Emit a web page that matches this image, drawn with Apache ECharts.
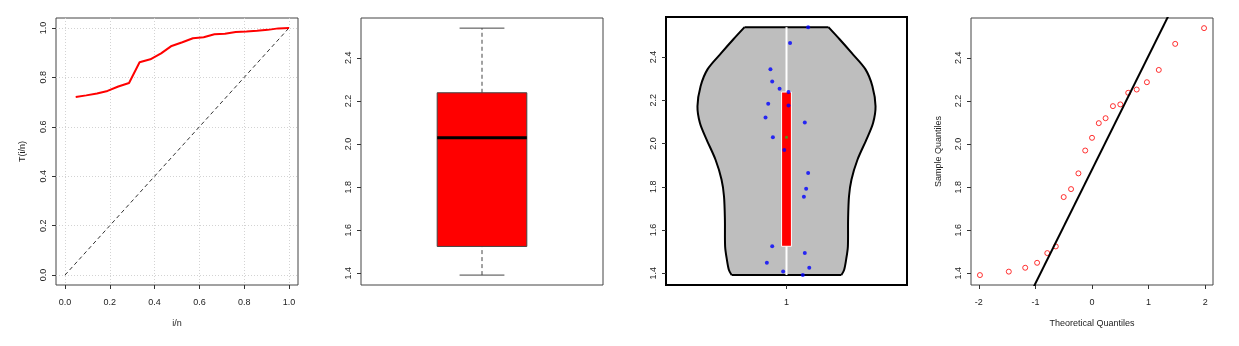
<!DOCTYPE html>
<html>
<head>
<meta charset="utf-8">
<script src="https://cdn.jsdelivr.net/npm/echarts@6/dist/echarts.min.js"></script>
<style>
html, body { margin: 0; padding: 0; background: #fff; }
#main { width: 1239px; height: 346px; }
</style>
</head>
<body>
<div id="main"></div>
<script>
// sorted sample, n = 21
var sample = [1.392, 1.408, 1.426, 1.449, 1.494, 1.525, 1.754, 1.791, 1.864, 1.970, 2.029,
              2.097, 2.120, 2.176, 2.184, 2.238, 2.253, 2.287, 2.344, 2.465, 2.538];

// TTT plot
var tttX = [0.048, 0.095, 0.143, 0.190, 0.238, 0.286, 0.333, 0.381, 0.429, 0.476, 0.524,
            0.571, 0.619, 0.667, 0.714, 0.762, 0.810, 0.857, 0.905, 0.952, 1.0];
var tttY = [0.720, 0.727, 0.735, 0.745, 0.763, 0.777, 0.861, 0.873, 0.897, 0.927, 0.942,
            0.958, 0.962, 0.974, 0.976, 0.983, 0.985, 0.988, 0.992, 0.998, 1.0];
var unitTicks = [0, 0.2, 0.4, 0.6, 0.8, 1.0];

// boxplot: min, lower hinge, median, upper hinge, max
var boxStats = [1.392, 1.525, 2.029, 2.238, 2.538];
var sampleTicks = [1.4, 1.6, 1.8, 2.0, 2.2, 2.4];

// violin outline (value, half width) and jittered points
var violinY = [1.392, 1.415, 1.462, 1.523, 1.647, 1.755, 1.833, 1.925, 2.018, 2.095,
               2.172, 2.265, 2.343, 2.420, 2.482, 2.538];
var violinHalf = [0.246, 0.258, 0.267, 0.275, 0.276, 0.280, 0.291, 0.318, 0.358, 0.388,
                  0.399, 0.385, 0.354, 0.291, 0.238, 0.188];
var jitterX = [1.073, 0.985, 1.102, 0.912, 1.082, 0.936, 1.078, 1.088, 1.097, 0.990, 0.939,
               1.082, 0.906, 1.009, 0.918, 1.009, 0.969, 0.936, 0.928, 1.016, 1.097];

// normal QQ
var theoQ = [-1.98, -1.47, -1.18, -0.97, -0.79, -0.64, -0.50, -0.37, -0.24, -0.12, 0,
             0.12, 0.24, 0.37, 0.50, 0.64, 0.79, 0.97, 1.18, 1.47, 1.98];
var qqTicks = [-2, -1, 0, 1, 2];

var FONT = 'Liberation Sans, Arial, sans-serif';
var TXT = '#222';

// qqline through the quartiles
var z75 = 0.6745;
var qqSlope = (sample[15] - sample[5]) / (2 * z75);
var qqInt = sample[5] + z75 * qqSlope;

function mkAxis(grid, min, max, ticks, isY, extra) {
    var a = {
        type: 'value', gridIndex: grid, min: min, max: max,
        axisLine: { show: false, onZero: false },
        axisTick: { show: !!ticks, length: 4, customValues: ticks || [], lineStyle: { color: '#333' } },
        axisLabel: {
            show: !!ticks, customValues: ticks || [], fontSize: 9, fontFamily: FONT, color: TXT,
            margin: isY ? 8 : 13, rotate: isY ? 90 : 0,
            formatter: function (v) { return (ticks === unitTicks || ticks === sampleTicks) ? v.toFixed(1) : String(v); }
        },
        splitLine: { show: false },
        nameLocation: 'middle',
        nameMoveOverlap: false,
        nameTextStyle: { fontSize: 9, fontFamily: FONT, color: TXT }
    };
    for (var k in extra) a[k] = extra[k];
    return a;
}

var myChart = echarts.init(document.getElementById('main'));

var gridBase = { show: true, borderColor: '#444', borderWidth: 1, backgroundColor: 'transparent' };
function mkGrid(l, t, w, h, extra) {
    var g = { left: l, top: t, width: w, height: h };
    for (var k in gridBase) g[k] = gridBase[k];
    for (var j in extra) g[j] = extra[j];
    return g;
}

var option = {
    animation: false,
    backgroundColor: '#fff',
    grid: [
        mkGrid(56, 18, 242, 267),
        mkGrid(361, 18, 242, 267),
        mkGrid(666, 17, 241, 268, { borderColor: '#000', borderWidth: 2 }),
        mkGrid(971, 18, 242, 267)
    ],
    xAxis: [
        mkAxis(0, -0.04, 1.04, unitTicks, false, {
            name: 'i/n', nameGap: 34,
            splitLine: { show: true, customValues: unitTicks, lineStyle: { color: '#d3d3d3', type: [1, 2] } }
        }),
        mkAxis(1, 0.46, 1.54, null, false, {}),
        mkAxis(2, 0.46, 1.54, [1], false, {}),
        mkAxis(3, -2.138, 2.138, qqTicks, false, { name: 'Theoretical Quantiles', nameGap: 34 })
    ],
    yAxis: [
        mkAxis(0, -0.04, 1.04, unitTicks, true, {
            name: 'T(i/n)', nameGap: 29,
            splitLine: { show: true, customValues: unitTicks, lineStyle: { color: '#d3d3d3', type: [1, 2] } }
        }),
        mkAxis(1, 1.346, 2.585, sampleTicks, true, {}),
        mkAxis(2, 1.346, 2.585, sampleTicks, true, {}),
        mkAxis(3, 1.346, 2.585, sampleTicks, true, { name: 'Sample Quantiles', nameGap: 28 })
    ],
    series: [
        // TTT panel
        {
            type: 'line', xAxisIndex: 0, yAxisIndex: 0, symbol: 'none',
            data: [[0, 0], [1, 1]],
            lineStyle: { color: '#333', width: 1, type: [4, 3] }
        },
        {
            type: 'line', xAxisIndex: 0, yAxisIndex: 0, symbol: 'none',
            data: tttX.map(function (x, i) { return [x, tttY[i]]; }),
            lineStyle: { color: '#ff0000', width: 2 }
        },
        // boxplot panel
        {
            type: 'custom', xAxisIndex: 1, yAxisIndex: 1,
            data: [[1].concat(boxStats)],
            renderItem: function (params, api) {
                var x = api.value(0);
                var p = function (dx, y) { return api.coord([x + dx, y]); };
                var s = boxStats;
                var whisk = { stroke: '#444', lineWidth: 1, lineDash: [4, 3] };
                var solid = { stroke: '#444', lineWidth: 1 };
                var lo = p(-0.2, s[3]), hi = p(0.2, s[1]);
                return {
                    type: 'group',
                    children: [
                        { type: 'line', shape: { x1: p(0, s[0])[0], y1: p(0, s[0])[1], x2: p(0, s[1])[0], y2: p(0, s[1])[1] }, style: whisk },
                        { type: 'line', shape: { x1: p(0, s[3])[0], y1: p(0, s[3])[1], x2: p(0, s[4])[0], y2: p(0, s[4])[1] }, style: whisk },
                        { type: 'line', shape: { x1: p(-0.1, s[0])[0], y1: p(-0.1, s[0])[1], x2: p(0.1, s[0])[0], y2: p(0.1, s[0])[1] }, style: solid },
                        { type: 'line', shape: { x1: p(-0.1, s[4])[0], y1: p(-0.1, s[4])[1], x2: p(0.1, s[4])[0], y2: p(0.1, s[4])[1] }, style: solid },
                        { type: 'rect', shape: { x: lo[0], y: lo[1], width: hi[0] - lo[0], height: hi[1] - lo[1] },
                          style: { fill: '#ff0000', stroke: '#444', lineWidth: 1 } },
                        { type: 'line', shape: { x1: p(-0.2, s[2])[0], y1: p(-0.2, s[2])[1], x2: p(0.2, s[2])[0], y2: p(0.2, s[2])[1] },
                          style: { stroke: '#000', lineWidth: 3 } }
                    ]
                };
            }
        },
        // violin panel
        {
            type: 'custom', xAxisIndex: 2, yAxisIndex: 2,
            data: [[1]],
            renderItem: function (params, api) {
                var left = [], right = [];
                for (var i = 0; i < violinY.length; i++) {
                    left.push(api.coord([1 - violinHalf[i], violinY[i]]));
                    right.push(api.coord([1 + violinHalf[i], violinY[i]]));
                }
                var poly = left.concat(right.slice().reverse());
                var s = boxStats;
                var bl = api.coord([1 - 0.022, s[3]]), br = api.coord([1 + 0.022, s[1]]);
                var vt = api.coord([1, s[4]]), vb = api.coord([1, s[0]]);
                var edge = { stroke: '#000', lineWidth: 2, fill: null };
                return {
                    type: 'group',
                    children: [
                        { type: 'polygon', shape: { points: poly }, style: { fill: '#bebebe' } },
                        { type: 'polyline', shape: { points: left, smooth: 0.3 }, style: edge },
                        { type: 'polyline', shape: { points: right, smooth: 0.3 }, style: edge },
                        { type: 'line', shape: { x1: left[0][0], y1: left[0][1], x2: right[0][0], y2: right[0][1] }, style: edge },
                        { type: 'line', shape: { x1: left[left.length - 1][0], y1: left[left.length - 1][1], x2: right[right.length - 1][0], y2: right[right.length - 1][1] }, style: edge },
                        { type: 'line', shape: { x1: vt[0], y1: vt[1], x2: vb[0], y2: vb[1] }, style: { stroke: '#fff', lineWidth: 2 } },
                        { type: 'rect', shape: { x: bl[0], y: bl[1], width: br[0] - bl[0], height: br[1] - bl[1] },
                          style: { fill: '#ff0000', stroke: '#fff', lineWidth: 1 } }
                    ]
                };
            }
        },
        {
            type: 'scatter', xAxisIndex: 2, yAxisIndex: 2, symbolSize: 4,
            data: sample.map(function (v, i) { return [jitterX[i], v]; }),
            itemStyle: { color: '#0000ff' }, z: 5
        },
        {
            type: 'scatter', xAxisIndex: 2, yAxisIndex: 2, symbolSize: 3,
            data: [[1, boxStats[2]]],
            itemStyle: { color: '#22bb22' }, z: 6
        },
        // QQ panel
        {
            type: 'line', xAxisIndex: 3, yAxisIndex: 3, symbol: 'none', clip: true,
            data: [[-2.138, qqInt - 2.138 * qqSlope], [2.138, qqInt + 2.138 * qqSlope]],
            lineStyle: { color: '#000', width: 2 }
        },
        {
            type: 'scatter', xAxisIndex: 3, yAxisIndex: 3, symbolSize: 5,
            data: theoQ.map(function (q, i) { return [q, sample[i]]; }),
            itemStyle: { color: 'transparent', borderColor: '#ff0000', borderWidth: 1 }
        }
    ]
};
myChart.setOption(option);
</script>
</body>
</html>
